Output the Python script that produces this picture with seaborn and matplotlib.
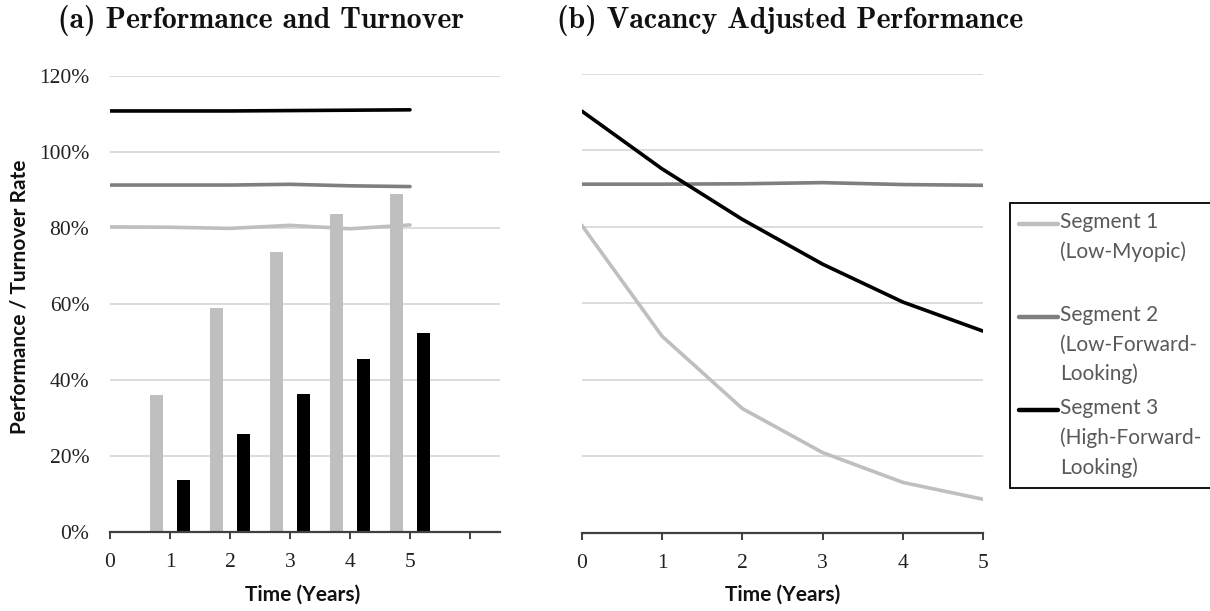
import numpy as np
import pandas as pd
import matplotlib
matplotlib.use("Agg")
import matplotlib.pyplot as plt
import seaborn as sns
from matplotlib.legend_handler import HandlerLine2D
from matplotlib.lines import Line2D
from matplotlib.font_manager import FontProperties

# ---------------- data ----------------
years = [0, 1, 2, 3, 4, 5]
bar_years = [1, 2, 3, 4, 5]
segments = ["Segment 1\n(Low-Myopic)\n ",
            "Segment 2\n(Low-Forward-\nLooking)",
            "Segment 3\n(High-Forward-\nLooking)"]
seg_colors = ["#BFBFBF", "#7F7F7F", "#000000"]

perf_seg1 = [80.3, 80.2, 79.9, 80.7, 79.8, 80.8]
perf_seg2 = [91.3, 91.3, 91.3, 91.5, 91.1, 90.9]
perf_seg3 = [110.8, 110.8, 110.8, 110.9, 111.0, 111.1]

turnover_seg1 = [36.0, 59.0, 73.7, 83.6, 89.0]
turnover_seg3 = [13.8, 25.7, 36.4, 45.4, 52.5]

adj_seg1 = [80.4, 51.4, 32.5, 21.0, 13.2, 8.8]
adj_seg2 = [91.1, 91.1, 91.2, 91.5, 91.0, 90.8]
adj_seg3 = [110.2, 95.1, 81.9, 70.2, 60.3, 52.7]

y_ticks = [0, 20, 40, 60, 80, 100, 120]
y_ticklabels = ["0%", "20%", "40%", "60%", "80%", "100%", "120%"]
left_xticks = [0, 1, 2, 3, 4, 5, 6]
left_xticklabels = ["0", "1", "2", "3", "4", "5", ""]
right_xticks = [0, 1, 2, 3, 4, 5]
right_xticklabels = ["0", "1", "2", "3", "4", "5"]

title_a = "(a) Performance and Turnover"
title_b = "(b) Vacancy Adjusted Performance"
xlabel = "Time (Years)"
ylabel = "Performance / Turnover Rate"

# ---------------- tables ----------------
pal = dict(zip(segments, seg_colors))
df_perf = pd.DataFrame({
    "Year": years * 3,
    "Value": perf_seg1 + perf_seg2 + perf_seg3,
    "Segment": [segments[0]] * 6 + [segments[1]] * 6 + [segments[2]] * 6,
})
df_turn = pd.DataFrame({
    "Year": bar_years * 2,
    "Rate": turnover_seg1 + turnover_seg3,
    "Segment": [segments[0]] * 5 + [segments[2]] * 5,
})
df_adj = pd.DataFrame({
    "Year": years * 3,
    "Value": adj_seg1 + adj_seg2 + adj_seg3,
    "Segment": [segments[0]] * 6 + [segments[1]] * 6 + [segments[2]] * 6,
})

# ---------------- figure ----------------
sns.set_theme(style="white")
plt.rcParams["font.family"] = ["Lato", "DejaVu Sans"]

W, H = 1210, 611
fig = plt.figure(figsize=(12.1, 6.11), dpi=100)

def fax(x0, x1, ytop, ybot):
    return fig.add_axes([x0 / W, 1 - ybot / H, (x1 - x0) / W, (ybot - ytop) / H])

ax1 = fax(110, 500, 76, 532)
ax2 = fax(581.7, 983.3, 73.5, 533)

# left panel: bars + lines
sns.barplot(data=df_turn, x="Year", y="Rate", hue="Segment",
            palette={segments[0]: seg_colors[0], segments[2]: seg_colors[2]},
            native_scale=True, width=0.9, gap=0.53, errorbar=None,
            saturation=1, linewidth=0, legend=False, ax=ax1)
sns.lineplot(data=df_perf, x="Year", y="Value", hue="Segment", palette=pal,
             linewidth=2.6, legend=False, ax=ax1, zorder=5)

# right panel: lines
sns.lineplot(data=df_adj, x="Year", y="Value", hue="Segment", palette=pal,
             linewidth=2.6, legend=False, ax=ax2, zorder=5)

serif = "Liberation Serif"
spine_col = "#404040"
for ax, xt, xtl, xlim in [(ax1, left_xticks, left_xticklabels, (0, 6.5)),
                          (ax2, right_xticks, right_xticklabels, (0, 5))]:
    ax.set_xlim(*xlim)
    ax.set_ylim(0, 120)
    ax.set_xticks(xt)
    ax.set_xticklabels(xtl, fontfamily=serif, fontsize=15.5, color="#222222")
    ax.set_yticks(y_ticks)
    ax.yaxis.grid(True, color="#D9D9D9", linewidth=1.3)
    ax.xaxis.grid(False)
    ax.set_axisbelow(True)
    for s in ["top", "right", "left"]:
        ax.spines[s].set_visible(False)
    ax.spines["bottom"].set_color(spine_col)
    ax.spines["bottom"].set_linewidth(1.6)
    ax.spines["bottom"].set_zorder(6)
    ax.tick_params(axis="x", direction="out", length=5, width=1.4,
                   color=spine_col, pad=10, bottom=True)
    ax.tick_params(axis="y", length=0, pad=15)
    ax.set_xlabel(xlabel, fontfamily="Lato", fontweight="bold", fontsize=15,
                  color="#111111")
    ax.set_ylabel("")
    ax.set_facecolor("white")

ax1.set_yticklabels(y_ticklabels, fontfamily=serif, fontsize=15.5, color="#222222")
ax2.set_yticklabels([""] * len(y_ticks))
ax1.set_ylabel(ylabel, fontfamily="Lato", fontweight="bold", fontsize=15,
               color="#111111")
ax1.yaxis.set_label_coords((29 - 110) / 390, (532 - 297) / 456)
ax1.xaxis.set_label_coords((303 - 110) / 390, (532 - 585) / 456)
ax2.xaxis.set_label_coords(0.5, (533 - 585) / 459.5)

# titles
fig.text(58 / W, 1 - 21 / H, title_a, fontfamily="cmb10", fontsize=21.5,
         ha="left", va="center", color="#111111")
fig.text(557 / W, 1 - 21 / H, title_b, fontfamily="cmb10", fontsize=21.5,
         ha="left", va="center", color="#111111")

# legend with handle aligned to first text line
leg_fs = 15
line_px = 29.0
shift_pt = line_px * 72 / fig.dpi

class TopLineHandler(HandlerLine2D):
    def create_artists(self, legend, orig_handle, xdescent, ydescent,
                       width, height, fontsize, trans):
        arts = super().create_artists(legend, orig_handle, xdescent, ydescent,
                                      width, height, fontsize, trans)
        for a in arts:
            a.set_ydata(np.asarray(a.get_ydata(), dtype=float) + shift_pt)
        return arts

handles = [Line2D([0], [0], color=c, linewidth=3.2) for c in seg_colors]
leg = fig.legend(handles, segments, loc="upper left",
                 bbox_to_anchor=(1010 / W, 1 - 203 / H),
                 bbox_transform=fig.transFigure, borderaxespad=0,
                 fontsize=leg_fs, frameon=True, fancybox=False,
                 edgecolor="black", framealpha=1, borderpad=0.45,
                 handlelength=1.85, handletextpad=0.1, labelspacing=0.66,
                 handler_map={Line2D: TopLineHandler()})
leg.get_frame().set_linewidth(1.3)
renderer = fig.canvas.get_renderer()
fp = FontProperties(family="Lato", size=leg_fs)
_, lp_h, lp_d = renderer.get_text_width_height_descent("lp", fp, ismath=False)
for t in leg.get_texts():
    t.set_color("#595959")
    t.set_linespacing(0.866 * line_px / (lp_h - lp_d))

fig.savefig("out.png", dpi=100, facecolor="white")
